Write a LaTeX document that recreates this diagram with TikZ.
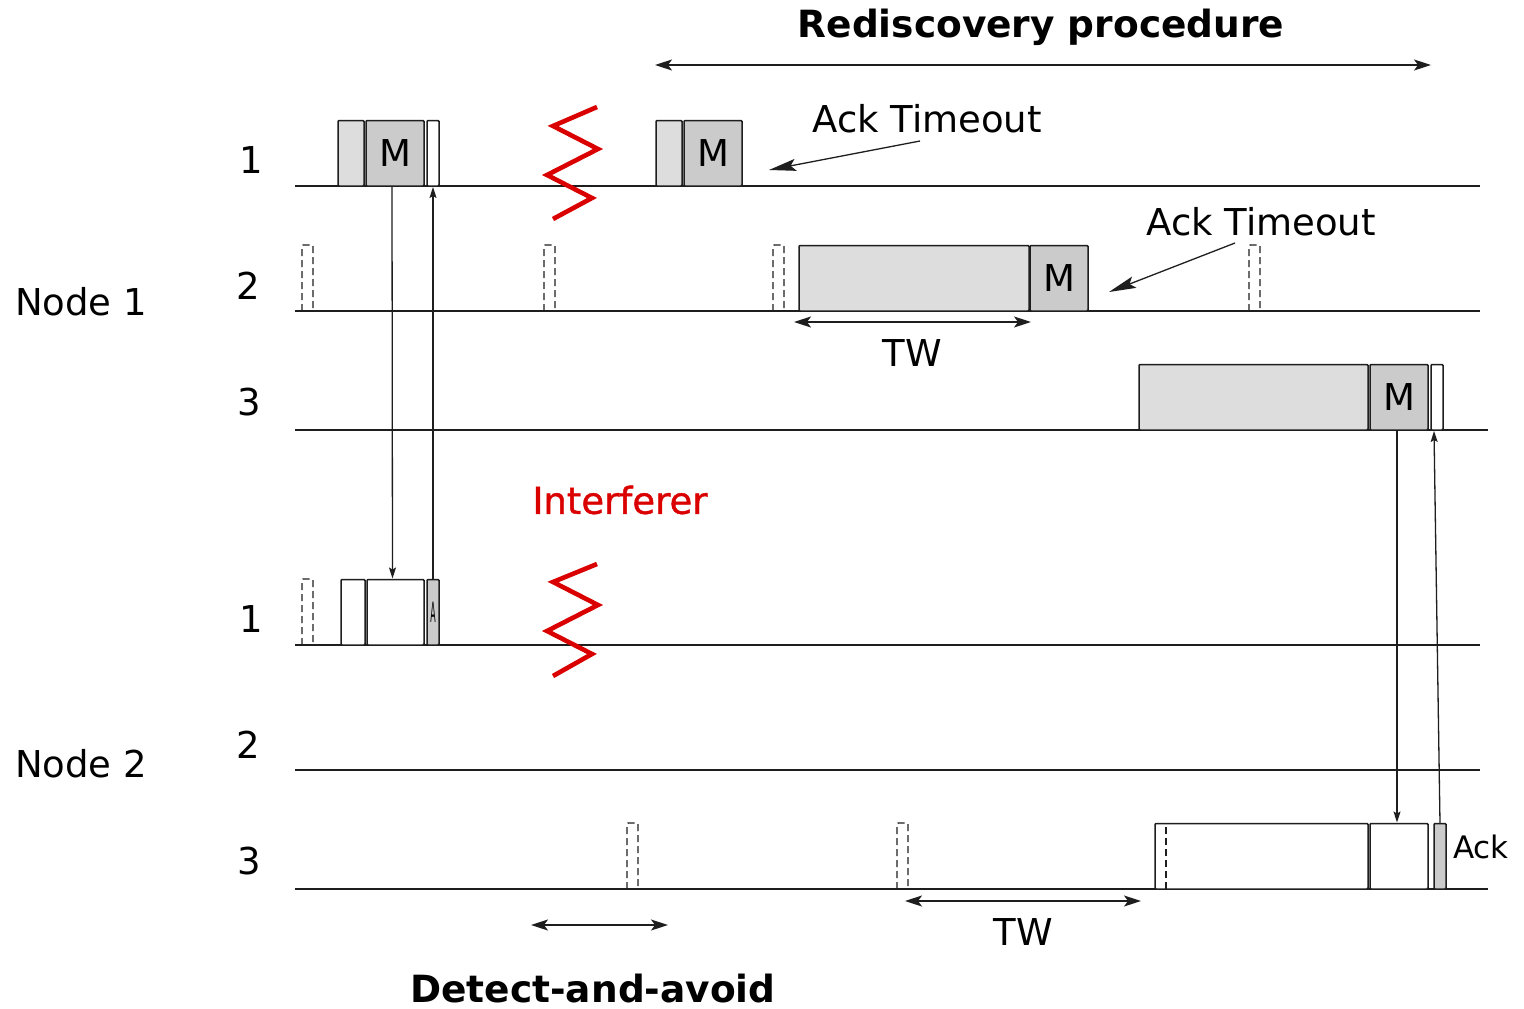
\documentclass[tikz,border=0pt]{standalone}
\usepackage{fontspec}
\usepackage{graphicx}
\setmainfont{DejaVu Sans}
\usetikzlibrary{arrows.meta}
\definecolor{lightslot}{RGB}{221,221,221}
\definecolor{midslot}{RGB}{203,203,203}
\definecolor{ink}{RGB}{30,30,30}
\definecolor{jam}{RGB}{218,0,0}
\tikzset{
  x=1pt,y=-1pt,
  slot/.style={draw=ink,line width=1.5pt,rounded corners=1pt,anchor=south west,inner sep=0pt,outer sep=0pt,minimum height=65.5pt},
  shortslot/.style={slot,minimum height=65.5pt},
  light/.style={fill=lightslot},
  mid/.style={fill=midslot},
  blank/.style={fill=white},
  axisline/.style={draw=ink,line width=1.5pt},
  ghostline/.style={draw=ink,line width=1.4pt,dash pattern=on 7pt off 4pt,rounded corners=1pt},
  link/.style={draw=ink,line width=1.3pt,-{Stealth[length=11pt,width=7pt,inset=2pt]}},
  span/.style={draw=ink,line width=1.3pt,{Stealth[length=17pt,width=11pt,inset=4pt]}-{Stealth[length=17pt,width=11pt,inset=4pt]}},
  pointer/.style={draw=ink,line width=1.3pt,-{Stealth[length=27pt,width=12pt,inset=5pt]}},
  zig/.style={draw=jam,line width=4.6pt,line join=miter},
  lbl/.style={font=\fontsize{37}{37}\selectfont,text=black,inner sep=0pt},
  big/.style={font=\fontsize{37}{37}\selectfont,text=black,inner sep=0pt},
  head/.style={font=\fontsize{37.5}{37.5}\selectfont\bfseries,text=black,inner sep=0pt},
}
\newcommand{\ghost}[2]{\draw[ghostline] (#1,#2) -- (#1,#2-66) -- (#1+11,#2-66) -- (#1+11,#2);}
\begin{document}
\begin{tikzpicture}
\useasboundingbox (0,0) rectangle (1524,1009);
\fill[white] (0,0) rectangle (1524,1009);

% time lines
\coordinate (a1s) at (295,186); \coordinate (a1e) at (1480,186);
\coordinate (a2s) at (295,311); \coordinate (a2e) at (1480,311);
\coordinate (a3s) at (295,430); \coordinate (a3e) at (1488,430);
\coordinate (b1s) at (295,645); \coordinate (b1e) at (1480,645);
\coordinate (b2s) at (295,770); \coordinate (b2e) at (1480,770);
\coordinate (b3s) at (295,889); \coordinate (b3e) at (1488,889);
\foreach \p in {a1,a2,a3,b1,b2,b3} \draw[axisline] (\p s) -- (\p e);

% node 1, channel 1
\node[slot,light,minimum width=26pt] (p1) at (338,186) {};
\node[slot,mid,minimum width=58pt,font=\fontsize{37}{37}\selectfont] (m1) at (366,186) {M};
\node[slot,blank,minimum width=12pt] (k1) at (427,186) {};
\node[slot,light,minimum width=26pt] (p2) at (656,186) {};
\node[slot,mid,minimum width=58pt,font=\fontsize{37}{37}\selectfont] (m2) at (684,186) {M};

% node 1, channel 2
\ghost{302}{311} \ghost{544}{311} \ghost{773}{311} \ghost{1249}{311}
\node[slot,light,minimum width=230pt] (p3) at (799,311) {};
\node[slot,mid,minimum width=58pt,font=\fontsize{37}{37}\selectfont] (m3) at (1030,311) {M};

% node 1, channel 3
\node[slot,light,minimum width=229pt] (p4) at (1139,430) {};
\node[slot,mid,minimum width=58pt,font=\fontsize{37}{37}\selectfont] (m4) at (1370,430) {M};
\node[slot,blank,minimum width=12pt] (k4) at (1431,430) {};

% node 2, channel 1
\ghost{302}{645}
\node[slot,blank,minimum width=24pt] (r1) at (341,645) {};
\node[slot,blank,minimum width=57pt] (d1) at (367,645) {};
\node[slot,mid,minimum width=12pt,font=\fontsize{28}{28}\selectfont] (a1) at (427,645) {\scalebox{0.28}[1]{A}};

% node 2, channel 3
\ghost{627}{889} \ghost{897}{889}
\node[slot,blank,minimum width=213pt] (r4) at (1155,889) {};
\draw[ghostline] (1166,889) -- (1166,824);
\node[slot,blank,minimum width=58pt] (d4) at (1370,889) {};
\node[slot,mid,minimum width=12pt] (a4) at (1434,889) {};
\node[font=\fontsize{31}{31}\selectfont,inner sep=0pt] (acklbl) at (1481,847) {Ack};

% exchanges
\draw[link] ([xshift=-3pt]m1.south) -- ([xshift=-3pt,yshift=1pt]d1.north);
\draw[link] (a1.north) -- ([yshift=-1pt]k1.south);
\draw[link] ([xshift=-2pt]m4.south) -- ([xshift=-2pt,yshift=1pt]d4.north);
\draw[link] (a4.north) -- ([yshift=-1pt,xshift=-3pt]k4.south);

% interferer
\draw[zig] (597,107) -- (553,126) -- (598,149) -- (547,175) -- (592,198) -- (553,219);
\draw[zig] (597,564) -- (553,582) -- (598,605) -- (547,631) -- (592,654) -- (553,676);
\node[font=\fontsize{37}{37}\selectfont,text=jam,inner sep=0pt,preaction={}] (intf) at (620,500) {\addfontfeature{FakeBold=1.2}Interferer};

% labels
\node[lbl] (c11) at (251,160) {1};
\node[lbl] (c12) at (248,286) {2};
\node[lbl] (c13) at (249,402) {3};
\node[lbl] (c21) at (251,619) {1};
\node[lbl] (c22) at (248,745) {2};
\node[lbl] (c23) at (249,861) {3};
\node[big] (n1) at (81,302) {Node 1};
\node[big] (n2) at (81,764) {Node 2};

% spans
\node[head] (redisc) at (1041,27) {Rediscovery procedure};
\coordinate (rs) at (655,65); \coordinate (re) at (1431,65);
\draw[span] (rs) -- (re);
\coordinate (ws1) at (794,322); \coordinate (we1) at (1031,322);
\draw[span] (ws1) -- (we1);
\node[big] (tw1) at (912,353) {TW};
\coordinate (ws2) at (905,901); \coordinate (we2) at (1141,901);
\draw[span] (ws2) -- (we2);
\node[big] (tw2) at (1023,932) {TW};
\coordinate (ds) at (531,925); \coordinate (de) at (668,925);
\draw[span] (ds) -- (de);
\node[head] (detect) at (593,989) {Detect-and-avoid};

% timeouts
\node[big] (to1) at (927,119) {Ack Timeout};
\coordinate (to1s) at (920,141); \coordinate (to1e) at (769,170);
\draw[pointer] (to1s) -- (to1e);
\node[big] (to2) at (1261,222) {Ack Timeout};
\coordinate (to2s) at (1235,243); \coordinate (to2e) at (1109,292);
\draw[pointer] (to2s) -- (to2e);
\end{tikzpicture}
\end{document}
